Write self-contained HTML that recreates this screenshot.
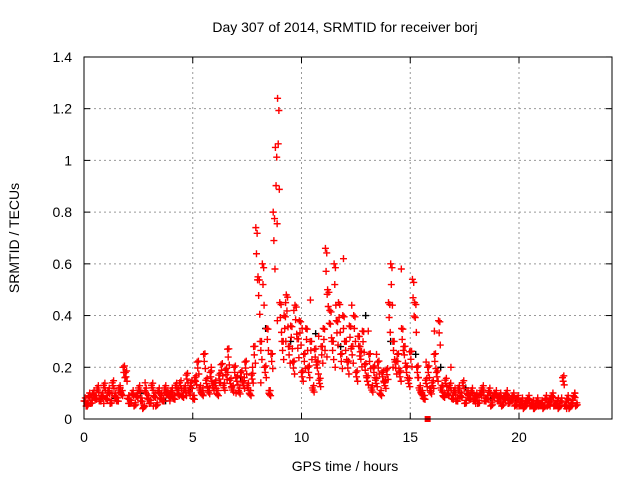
<!DOCTYPE html>
<html><head><meta charset="utf-8"><style>
body{margin:0;background:#fff;}
svg text{font-family:"Liberation Sans",sans-serif;font-size:14px;fill:#000;}
</style></head><body>
<svg id="chart" width="640" height="480">
<rect width="640" height="480" fill="#fff"/>
<g id="grid"></g>
<g id="marks"></g>
<rect x="84" y="57" width="528" height="362" fill="none" stroke="#000" stroke-width="1"/>
<g id="axes"></g>
<text x="345" y="32" text-anchor="middle">Day 307 of 2014, SRMTID for receiver borj</text>
<text x="345" y="471" text-anchor="middle">GPS time / hours</text>
<text transform="translate(19,238) rotate(-90)" text-anchor="middle">SRMTID / TECUs</text>
</svg>
<script>
const xTicks=[0,5,10,15,20];
const yTicks=[0,0.2,0.4,0.6,0.8,1,1.2,1.4];
const yTickLabels=["0","0.2","0.4","0.6","0.8","1","1.2","1.4"];
const seriesA=[0.07,0.05,0.09,0.06,0.10,0.08,0.12,0.07,0.09,0.13,
0.08,0.11,0.06,0.14,0.09,0.07,0.12,0.10,0.20,0.18,
0.08,0.06,0.10,0.05,0.09,0.12,0.07,0.04,0.11,0.08,
0.06,0.13,0.09,0.05,0.11,0.08,0.07,0.12,0.10,0.09,
0.11,0.08,0.13,0.10,0.14,0.09,0.12,0.17,0.11,0.14,
0.08,0.16,0.22,0.12,0.10,0.25,0.15,0.11,0.18,0.13,
0.14,0.10,0.17,0.21,0.13,0.19,0.27,0.15,0.12,0.20,
0.16,0.11,0.18,0.14,0.22,0.13,0.10,0.17,0.28,0.74,
0.55,0.30,0.60,0.20,0.35,0.10,0.25,0.80,1.05,1.24,
0.45,0.30,0.40,0.48,0.28,0.36,0.22,0.44,0.31,0.38,
0.18,0.25,0.35,0.20,0.30,0.12,0.27,0.22,0.15,0.28,
0.35,0.66,0.50,0.42,0.30,0.60,0.38,0.45,0.25,0.40,
0.30,0.22,0.36,0.28,0.40,0.18,0.32,0.26,0.34,0.21,
0.16,0.25,0.12,0.20,0.15,0.22,0.10,0.18,0.14,0.19,
0.45,0.60,0.30,0.22,0.25,0.18,0.35,0.28,0.20,0.15,
0.26,0.54,0.45,0.20,0.12,0.10,0.08,0.15,0.20,0.11,
0.14,0.25,0.18,0.38,0.12,0.09,0.15,0.10,0.13,0.08,
0.11,0.07,0.12,0.09,0.14,0.06,0.10,0.08,0.11,0.07,
0.09,0.06,0.10,0.12,0.07,0.08,0.11,0.05,0.09,0.10,
0.07,0.09,0.05,0.08,0.10,0.06,0.07,0.09,0.05,0.08,
0.05,0.07,0.04,0.06,0.08,0.05,0.06,0.04,0.07,0.05,
0.06,0.04,0.08,0.05,0.07,0.09,0.05,0.06,0.04,0.07,
0.16,0.05,0.08,0.04,0.06,0.09,0.05];
const seriesB=[0.05,0.09,0.06,0.10,0.12,0.06,0.09,0.14,0.05,0.10,
0.07,0.12,0.09,0.15,0.12,0.20,0.14,0.18,0.10,0.16,
0.20,0.14,0.11,0.38,0.45,0.42,0.35,0.46,0.32,0.24,
0.20,0.62,0.44,0.28,0.34,0.25,0.14,0.20,0.58,0.26,
0.16,0.22,0.34,0.13,0.20,0.08,0.10,0.06,0.09,0.07,
0.06,0.08,0.05,0.07,0.04,0.06,0.05,0.08,0.04,0.10];
const seriesBlack=[0.06,0.08,0.10,0.07,0.12,0.14,0.16,0.35,0.30,0.33,0.28,0.40,0.30,0.25,0.20,0.12,0.08,0.07,0.06,0.05];
const x=h=>84+h*21.75;
const y=v=>419-v*258.6;
const g=document.getElementById('grid'),ax=document.getElementById('axes'),m=document.getElementById('marks');
const NS='http://www.w3.org/2000/svg';
function mk(t,a,p){const e=document.createElementNS(NS,t);for(const k in a)e.setAttribute(k,a[k]);p.appendChild(e);return e;}
xTicks.forEach(t=>{
 if(t>0){const l=mk('line',{x1:x(t),x2:x(t),y1:57,y2:419,stroke:'#999','stroke-dasharray':'2,3'},g);
 
 }
 mk('line',{x1:x(t),x2:x(t),y1:419,y2:413,stroke:'#000'},ax);
 mk('line',{x1:x(t),x2:x(t),y1:57,y2:63,stroke:'#000'},ax);
 const tx=mk('text',{x:x(t),y:442,'text-anchor':'middle'},ax);tx.textContent=t;
 
 
});
yTicks.forEach((t,i)=>{
 if(t>0&&t<1.4){const l=mk('line',{x1:84,x2:612,y1:y(t),y2:y(t),stroke:'#999','stroke-dasharray':'2,3'},g);
 
 }
 mk('line',{x1:84,x2:90,y1:y(t),y2:y(t),stroke:'#000'},ax);
 mk('line',{x1:606,x2:612,y1:y(t),y2:y(t),stroke:'#000'},ax);
 const tx=mk('text',{x:72,y:y(t)+5,'text-anchor':'end'},ax);tx.textContent=yTickLabels[i];
 
 
});
function plus(h,v,c,name){
 const p=mk('path',{d:`M${x(h)-3.5},${y(v)}h7M${x(h)},${y(v)-3.5}v7`,stroke:c,'stroke-width':1.4,fill:'none'},m);
 
 
}
seriesBlack.forEach((v,i)=>plus(i*1.15+0.3,v,'#000','black-point'));
seriesA.forEach((v,i)=>{plus(i*0.1,v,'#f00','red-point');plus(i*0.1+0.03,v*0.85+0.01,'#f00','red-point');plus(i*0.1+0.06,v*0.95+0.015,'#f00','red-point');plus(i*0.1+0.08,v*0.7+0.02,'#f00','red-point');});
seriesB.forEach((v,i)=>plus(i*0.38+0.15,v,'#f00','red-point'));
const sq=mk('rect',{x:x(15.8)-3,y:y(0)-3,width:6,height:6,fill:'#f00'},m);


</script>
</body></html>
